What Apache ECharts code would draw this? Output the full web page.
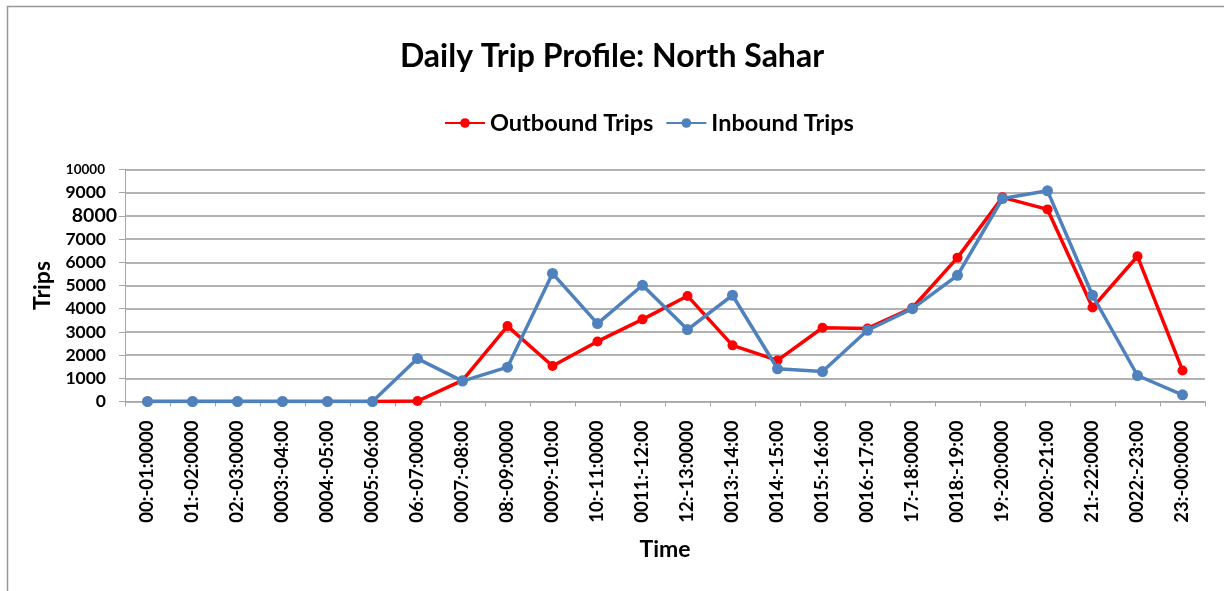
<!DOCTYPE html>
<html>
<head>
<meta charset="utf-8">
<script src="https://cdn.jsdelivr.net/npm/echarts@6/dist/echarts.min.js"></script>
<style>
  html, body { margin: 0; padding: 0; background: #fff; }
  #chart { width: 1224px; height: 591px; }
</style>
</head>
<body>
<div id="chart"></div>
<script>
// Hourly time bands (labels kept exactly as they appear on the axis)
const timeBands = [
  '00:-01:0000', '01:-02:0000', '02:-03:0000', '0003:-04:00', '0004:-05:00', '0005:-06:00',
  '06:-07:0000', '0007:-08:00', '08:-09:0000', '0009:-10:00', '10:-11:0000', '0011:-12:00',
  '12:-13:0000', '0013:-14:00', '0014:-15:00', '0015:-16:00', '0016:-17:00', '17:-18:0000',
  '0018:-19:00', '19:-20:0000', '0020:-21:00', '21:-22:0000', '0022:-23:00', '23:-00:0000'
];

// Trips per hour
const outboundTrips = [
  0, 0, 0, 0, 0, 0, 20, 910, 3250, 1530, 2590, 3540,
  4550, 2420, 1770, 3180, 3150, 4040, 6200, 8800, 8280, 4050, 6260, 1340
];
const inboundTrips = [
  0, 0, 0, 0, 0, 0, 1850, 880, 1480, 5520, 3360, 5010,
  3100, 4580, 1410, 1290, 3070, 4000, 5440, 8750, 9080, 4580, 1120, 290
];

const FONT = 'Lato';

const chart = echarts.init(document.getElementById('chart'), null, { renderer: 'canvas' });

chart.setOption({
  backgroundColor: '#ffffff',
  animation: false,
  graphic: [{
    type: 'rect',
    shape: { x: 7.5, y: 6.5, width: 1400, height: 800 },
    style: { fill: 'none', stroke: '#979797', lineWidth: 1.5 },
    silent: true
  }],
  title: {
    text: 'Daily Trip Profile: North Sahar',
    left: 'center',
    top: 36,
    textStyle: { fontFamily: FONT, fontWeight: 'bold', fontSize: 32, color: '#000' }
  },
  legend: {
    top: 106,
    left: 439,
    itemWidth: 40,
    itemHeight: 12,
    itemGap: 12,
    textStyle: { fontFamily: FONT, fontWeight: 'bold', fontSize: 23.5, color: '#000' },
    data: ['Outbound Trips', 'Inbound Trips']
  },
  grid: { left: 125, right: 19, top: 169.5, bottom: 189.5, containLabel: false },
  xAxis: {
    type: 'category',
    data: timeBands,
    boundaryGap: true,
    name: 'Time',
    nameLocation: 'middle',
    nameGap: 137,
    nameTextStyle: { fontFamily: FONT, fontWeight: 'bold', fontSize: 23, color: '#000' },
    axisLine: { lineStyle: { color: '#a6a6a6', width: 1 } },
    axisTick: { show: true, length: 5, alignWithLabel: false, lineStyle: { color: '#a6a6a6' } },
    axisLabel: {
      interval: 0,
      rotate: 90,
      margin: 19,
      fontFamily: FONT,
      fontWeight: 'bold',
      fontSize: 18.5,
      color: '#000'
    },
    splitLine: { show: false }
  },
  yAxis: {
    type: 'value',
    min: 0,
    max: 10000,
    interval: 1000,
    name: 'Trips',
    nameLocation: 'middle',
    nameGap: 65,
    nameRotate: 90,
    nameTextStyle: { fontFamily: FONT, fontWeight: 'bold', fontSize: 23, color: '#000' },
    axisLine: { show: true, lineStyle: { color: '#a6a6a6', width: 1 } },
    axisTick: { show: true, length: 6, inside: false, lineStyle: { color: '#a6a6a6' } },
    axisLabel: {
      margin: 8,
      formatter: function (v) {
        if (v === 8000) return '{big|' + v + '}';
        if (v === 10000) return '{small|' + v + '}';
        return '{norm|' + v + '}';
      },
      rich: {
        norm: { fontFamily: FONT, fontWeight: 'bold', fontSize: 17.5, color: '#000', padding: [0, 11, 0, 0] },
        small: { fontFamily: FONT, fontWeight: 'bold', fontSize: 13.5, color: '#000', padding: [0, 12, 0, 0] },
        big: { fontFamily: FONT, fontWeight: 'bold', fontSize: 19.5, color: '#000' }
      }
    },
    splitLine: { show: true, lineStyle: { color: '#9a9a9a', width: 1.5 } }
  },
  series: [
    {
      name: 'Outbound Trips',
      type: 'line',
      data: outboundTrips,
      color: '#ff0000',
      symbol: 'circle',
      symbolSize: 10,
      lineStyle: { width: 3.5, color: '#ff0000' },
      itemStyle: { color: '#ff0000' },
      z: 2
    },
    {
      name: 'Inbound Trips',
      type: 'line',
      data: inboundTrips,
      color: '#4f81bd',
      symbol: 'circle',
      symbolSize: 11,
      lineStyle: { width: 3.5, color: '#4f81bd' },
      itemStyle: { color: '#4f81bd' },
      z: 3
    }
  ]
});
</script>
</body>
</html>
